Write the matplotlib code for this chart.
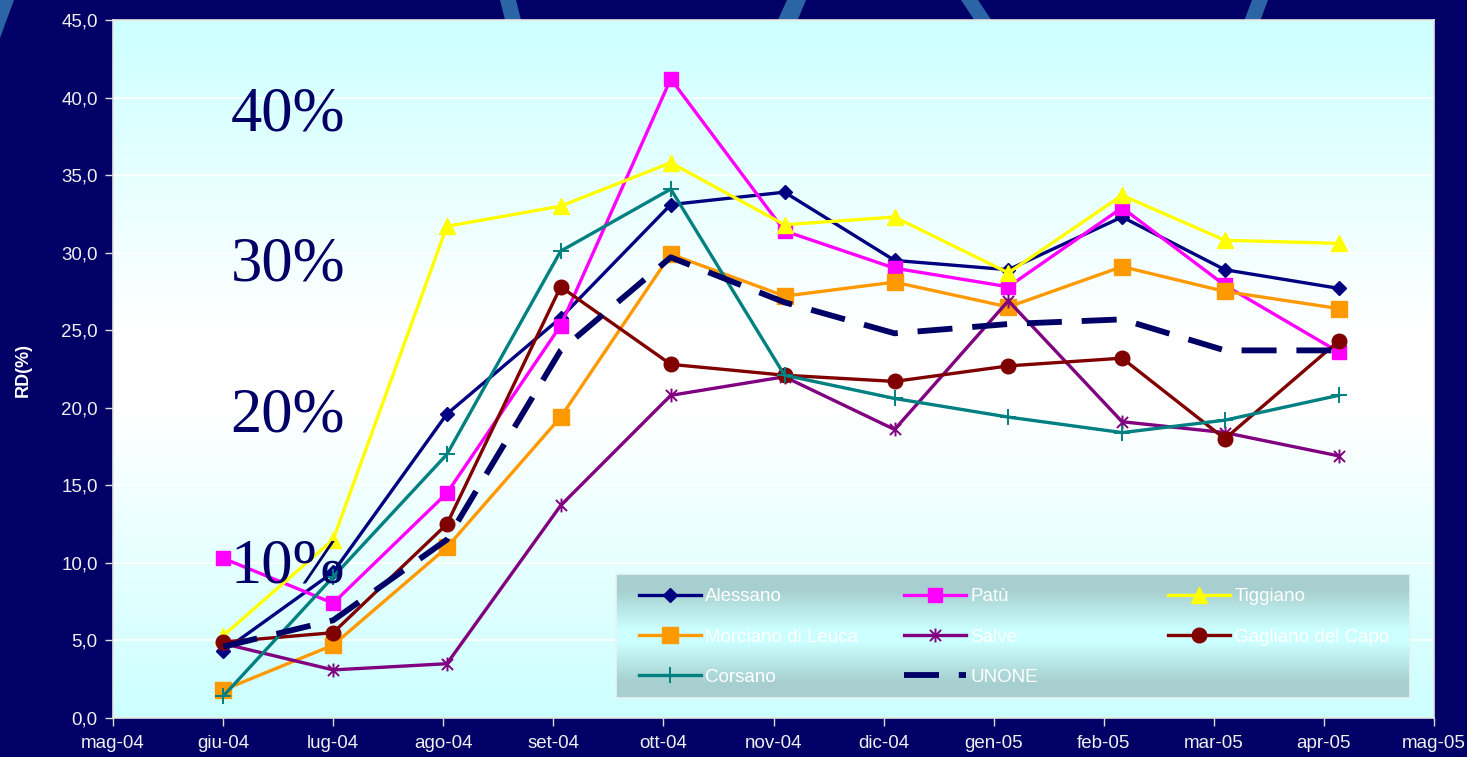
import numpy as np
import matplotlib
matplotlib.use('Agg')
import matplotlib.pyplot as plt
from matplotlib.path import Path
from matplotlib.patches import Polygon
import matplotlib.transforms as mtransforms

plt.rcParams['font.family'] = ['Liberation Sans', 'DejaVu Sans']

# ---------------- data ----------------
dates = ['2004-06-01', '2004-07-01', '2004-08-01', '2004-09-01', '2004-10-01',
         '2004-11-01', '2004-12-01', '2005-01-01', '2005-02-01', '2005-03-01',
         '2005-04-01']
x_tick_labels = ['mag-04', 'giu-04', 'lug-04', 'ago-04', 'set-04', 'ott-04', 'nov-04',
                 'dic-04', 'gen-05', 'feb-05', 'mar-05', 'apr-05', 'mag-05']
y_tick_values = [0, 5, 10, 15, 20, 25, 30, 35, 40, 45]
y_tick_labels = ['0,0', '5,0', '10,0', '15,0', '20,0', '25,0', '30,0', '35,0', '40,0', '45,0']

alessano = [4.3, 9.4, 19.6, 25.8, 33.1, 33.9, 29.5, 28.9, 32.3, 28.9, 27.7]
patu     = [10.3, 7.4, 14.5, 25.3, 41.2, 31.4, 29.0, 27.8, 32.9, 27.9, 23.6]
tiggiano = [5.3, 11.5, 31.7, 33.0, 35.8, 31.8, 32.3, 28.7, 33.7, 30.8, 30.6]
morciano = [1.8, 4.7, 11.0, 19.4, 29.9, 27.2, 28.1, 26.5, 29.1, 27.5, 26.4]
salve    = [4.8, 3.1, 3.5, 13.7, 20.8, 22.0, 18.6, 26.9, 19.1, 18.4, 16.9]
gagliano = [4.9, 5.5, 12.5, 27.8, 22.8, 22.1, 21.7, 22.7, 23.2, 18.0, 24.3]
corsano  = [1.4, 9.1, 17.0, 30.1, 34.1, 22.1, 20.6, 19.4, 18.4, 19.2, 20.8]
unone    = [4.6, 6.3, 11.5, 23.7, 29.7, 26.8, 24.8, 25.4, 25.7, 23.7, 23.7]

series_names = ['Alessano', 'Patù', 'Tiggiano', 'Morciano di Leuca', 'Salve',
                'Gagliano del Capo', 'Corsano', 'UNONE']
overlay_labels = ['40%', '30%', '20%', '10%']

# ---------------- figure ----------------
W, H = 1467, 757
fig = plt.figure(figsize=(W / 100, H / 100), dpi=100)
fig.patch.set_facecolor('#000066')

def px(x, y):
    return (x / W, 1 - y / H)

# decorative slanted stripes of the slide background
stripes = [
    [(0, 0), (14, 0), (0, 38)],
    [(500, 0), (516, 0), (522, 24), (506, 24)],
    [(787, 0), (806, 0), (796, 24), (776, 24)],
    [(961, 0), (978, 0), (994, 24), (977, 24)],
    [(1252, 0), (1268, 0), (1259, 24), (1243, 24)],
]
for poly in stripes:
    fig.add_artist(Polygon([px(*p) for p in poly], closed=True, transform=fig.transFigure,
                           facecolor='#2b65a5', edgecolor='none', zorder=-1))

rect = [113 / W, 1 - 718 / H, 1321 / W, 698 / H]

# gradient plot-area background
bg = fig.add_axes(rect, zorder=-0.5)
t = np.linspace(0, 1, 400)[:, None]
mix = np.clip((np.abs(t - 0.5) - 0.06) / 0.44, 0, 1)
cyan = np.array([0.80, 1.0, 1.0])
white = np.array([1.0, 1.0, 1.0])
img = white[None, None, :] * (1 - mix[..., None]) + cyan[None, None, :] * mix[..., None]
bg.imshow(img, extent=[0, 1, 0, 1], origin='lower', aspect='auto', interpolation='bilinear')
bg.set_xlim(0, 1); bg.set_ylim(0, 1)
bg.axis('off')

ax = fig.add_axes(rect, zorder=0)
ax.set_facecolor('none')

x = np.array(dates, dtype='datetime64[D]')
base = np.datetime64('2004-05-02')
x_ticks = [base + np.timedelta64(30 * k, 'D') for k in range(len(x_tick_labels))]

star = Path([(0, -1), (0, 1), (-0.8, -0.8), (0.8, 0.8), (-0.8, 0.8), (0.8, -0.8)],
            [Path.MOVETO, Path.LINETO] * 3)

styles = [
    dict(color='#000080', marker='D', ms=7.3, lw=2.4),
    dict(color='#FF00FF', marker='s', ms=10.5, lw=2.4),
    dict(color='#FFFF00', marker='^', ms=11, lw=2.4),
    dict(color='#FF9900', marker='s', ms=11.5, lw=2.4),
    dict(color='#800080', marker=star, ms=10, lw=2.4, mew=1.4),
    dict(color='#800000', marker='o', ms=10.5, lw=2.4),
    dict(color='#008080', marker='+', ms=11, lw=2.4, mew=1.4),
    dict(color='#000066', lw=4.2, dashes=(6.0, 3.4)),
]
data = [alessano, patu, tiggiano, morciano, salve, gagliano, corsano, unone]
handles = []
for i, (name, vals, st) in enumerate(zip(series_names, data, styles)):
    h, = ax.plot(x, vals, label=name, zorder=3 + i * 0.1, clip_on=False, **st)
    handles.append(h)

ax.set_xlim(x_ticks[0], x_ticks[-1])
ax.set_ylim(0, 45)
ax.set_xticks(x_ticks)
ax.set_xticklabels(x_tick_labels)
ax.set_yticks(y_tick_values)
ax.set_yticklabels(y_tick_labels)
ax.tick_params(axis='both', colors='#dcdcdc', labelcolor='#f0f0f0', length=6, width=1,
               direction='out', labelsize=13.5)
ax.tick_params(axis='y', pad=5)
ax.tick_params(axis='x', pad=6)
ax.yaxis.grid(True, color='white', lw=1.2)
ax.set_axisbelow(True)
for s in ax.spines.values():
    s.set_color('#e4e4e4')
    s.set_linewidth(1.2)

# large overlay percentages
trans = mtransforms.blended_transform_factory(ax.transAxes, ax.transData)
for lab, yv in zip(overlay_labels, [37.9, 28.2, 18.45, 8.72]):
    ax.text(0.089, yv, lab, transform=trans, fontsize=45, family='Liberation Serif',
            color='#000066', ha='left', va='baseline', zorder=10)

fig.text(23 / W, 1 - 370 / H, 'RD(%)', rotation=90, color='white', fontweight='bold',
         fontsize=13, ha='center', va='center')

# legend background box
lx0, ly0, lx1, ly1 = 616, 574, 1410, 698
lg = fig.add_axes([lx0 / W, 1 - ly1 / H, (lx1 - lx0) / W, (ly1 - ly0) / H], zorder=1)
tl = np.linspace(0, 1, 200)[:, None]
mixl = np.clip((np.abs(tl - 0.5) - 0.05) / 0.32, 0, 1)
c_mid = np.array([0.80, 1.0, 1.0])
c_edge = np.array([0.655, 0.815, 0.815])
limg = c_mid[None, None, :] * (1 - mixl[..., None]) + c_edge[None, None, :] * mixl[..., None]
lg.imshow(limg, extent=[0, 1, 0, 1], origin='lower', aspect='auto', interpolation='bilinear')
lg.set_xlim(0, 1); lg.set_ylim(0, 1)
lg.set_xticks([]); lg.set_yticks([])
for s in lg.spines.values():
    s.set_color('#e6f4f4')
    s.set_linewidth(1.2)

fs = 13.5
common = dict(loc='upper left', frameon=False, fontsize=fs, labelcolor='white',
              handlelength=3.33, handletextpad=0.2, labelspacing=1.24,
              borderpad=0, borderaxespad=0)
cols = [[0, 3, 6], [1, 4, 7], [2, 5]]
col_x = [639, 904, 1168]
for cidx, cx in zip(cols, col_x):
    leg = fig.legend(handles=[handles[i] for i in cidx], bbox_to_anchor=px(cx, 588), **common)
    leg.set_zorder(5)

fig.savefig('out.png', dpi=100, facecolor=fig.get_facecolor())
